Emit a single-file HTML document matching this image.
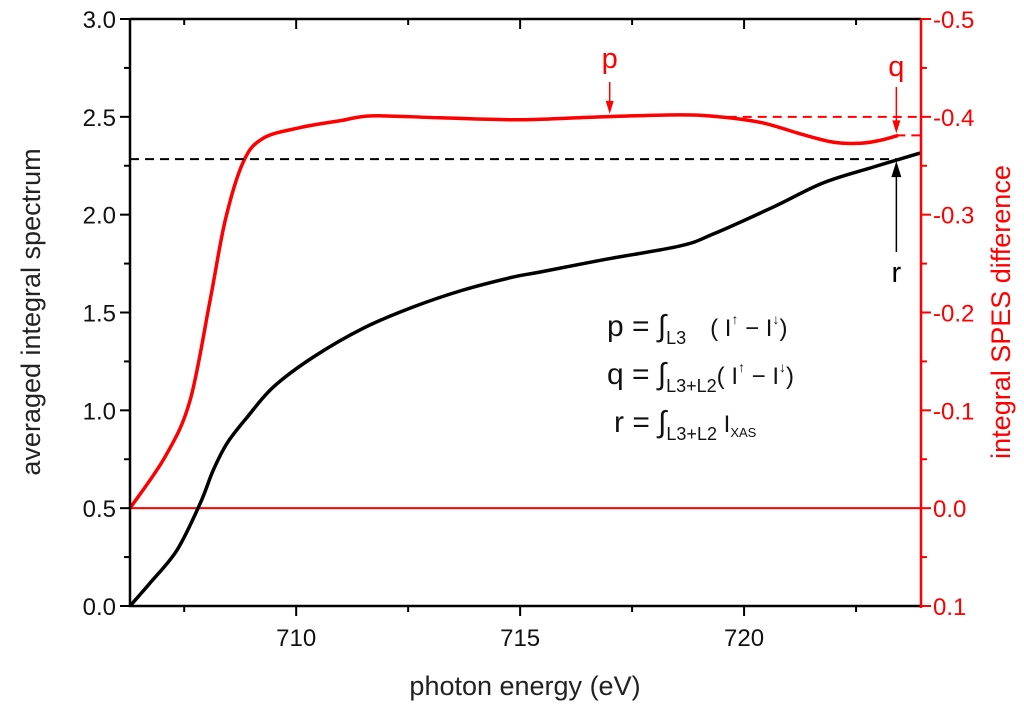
<!DOCTYPE html>
<html><head><meta charset="utf-8"><style>
html,body{margin:0;padding:0;background:#fff;}
svg{display:block;font-family:"Liberation Sans",Arial,sans-serif;}
</style></head><body>
<svg id="chart" width="1024" height="706" viewBox="0 0 1024 706" xmlns="http://www.w3.org/2000/svg">
<g id="grid"></g>
<g id="marks"></g>
<g id="axes"></g>
<g id="annot"></g>
<text x="525" y="695" font-size="27" text-anchor="middle" fill="#222">photon energy (eV)</text>
<text transform="translate(40,312) rotate(-90)" font-size="27" text-anchor="middle" fill="#222">averaged integral spectrum</text>
<text transform="translate(1010,312) rotate(-90)" font-size="27" text-anchor="middle" fill="red">integral SPES difference</text>
<g font-size="30" fill="#111">
<text x="607" y="336">p = ∫<tspan font-size="18" dy="8">L3</tspan><tspan dy="-8" font-size="24" dx="24">( I</tspan><tspan font-size="14" dy="-12">↑</tspan><tspan font-size="24" dy="12"> − I</tspan><tspan font-size="14" dy="-12">↓</tspan><tspan font-size="24" dy="12">)</tspan></text>
<text x="607" y="384">q = ∫<tspan font-size="18" dy="8">L3+L2</tspan><tspan dy="-8" font-size="24">( I</tspan><tspan font-size="14" dy="-12">↑</tspan><tspan font-size="24" dy="12"> − I</tspan><tspan font-size="14" dy="-12">↓</tspan><tspan font-size="24" dy="12">)</tspan></text>
<text x="614" y="432">r = ∫<tspan font-size="18" dy="8">L3+L2</tspan><tspan dy="-8" font-size="24"> I</tspan><tspan font-size="13" dy="5">XAS</tspan></text>
</g>
</svg>
<script>
const xTicks = [710, 715, 720];
const yLeftTicks = [0.0, 0.5, 1.0, 1.5, 2.0, 2.5, 3.0];
const yRightTicks = [-0.5, -0.4, -0.3, -0.2, -0.1, 0.0, 0.1];
const blackX = [706.29,706.74,707.34,707.86,708.15,708.46,708.91,709.49,710.38,711.5,712.61,713.73,714.84,715.45,716.94,718.57,719.31,720.65,721.76,722.88,723.93];
const blackY = [0,0.118,0.286,0.526,0.695,0.833,0.966,1.119,1.272,1.42,1.528,1.615,1.681,1.707,1.773,1.84,1.901,2.039,2.162,2.243,2.315];
const redX = [706.29,707.08,707.63,708.08,708.42,708.82,709.26,710.09,710.98,711.7,713.21,715.0,716.79,718.57,719.46,720.4,721.3,722.0,722.6,723.04,723.44];
const redY = [0,-0.053,-0.11,-0.213,-0.295,-0.354,-0.378,-0.389,-0.396,-0.401,-0.399,-0.397,-0.4,-0.402,-0.4,-0.394,-0.382,-0.374,-0.373,-0.376,-0.381];
const rLevel = 2.284, pLevel = -0.400, qLevel = -0.381;
const pX = 717.0, qX = 723.4, rX = 723.4;

const L=130,R=921,T=19,B=606;
const X0=706.29,X1=723.95;
const xs=v=>L+(v-X0)/(X1-X0)*(R-L);
const yl=v=>B-(v/3)*(B-T);
const yr=v=>T+(v+0.5)/0.6*(B-T);
const NS='http://www.w3.org/2000/svg';
function mk(parent,tag,attrs){const e=document.createElementNS(NS,tag);for(const k in attrs)e.setAttribute(k,attrs[k]);document.getElementById(parent).appendChild(e);return e;}
function smooth(xa,ya,fy){const p=xa.map((x,i)=>[xs(x),fy(ya[i])]);let d='M'+p[0][0]+','+p[0][1];for(let i=0;i<p.length-1;i++){const p0=p[i-1]||p[i],p1=p[i],p2=p[i+1],p3=p[i+2]||p2;const c1=[p1[0]+(p2[0]-p0[0])/6,p1[1]+(p2[1]-p0[1])/6],c2=[p2[0]-(p3[0]-p1[0])/6,p2[1]-(p3[1]-p1[1])/6];d+='C'+c1.join(',')+' '+c2.join(',')+' '+p2.join(',');}return d;}

let e=mk('marks','line',{x1:L,x2:R,y1:yr(0),y2:yr(0),stroke:'red','stroke-width':2});


e=mk('marks','path',{d:smooth(redX,redY,yr),fill:'none',stroke:'red','stroke-width':3.5});


e=mk('marks','path',{d:smooth(blackX,blackY,yl),fill:'none',stroke:'#000','stroke-width':3.5});


e=mk('annot','line',{x1:L,x2:xs(rX),y1:yl(rLevel),y2:yl(rLevel),stroke:'#000','stroke-width':2,'stroke-dasharray':'9,6'});


e=mk('annot','line',{x1:xs(719.3),x2:R,y1:yr(pLevel),y2:yr(pLevel),stroke:'red','stroke-width':2,'stroke-dasharray':'9,6'});


e=mk('annot','line',{x1:xs(qX),x2:R,y1:yr(qLevel),y2:yr(qLevel),stroke:'red','stroke-width':2,'stroke-dasharray':'9,6'});


function arrowDown(name,x,y1,y2,col){
 const g=mk('annot','g',{});
 
 
 const l=document.createElementNS(NS,'line');l.setAttribute('x1',x);l.setAttribute('x2',x);l.setAttribute('y1',y1);l.setAttribute('y2',y2-10);l.setAttribute('stroke',col);l.setAttribute('stroke-width',1.5);g.appendChild(l);
 const p=document.createElementNS(NS,'path');p.setAttribute('d',`M${x-4},${y2-13}L${x},${y2}L${x+4},${y2-13}Z`);p.setAttribute('fill',col);g.appendChild(p);}
arrowDown('p-arrow',xs(pX),82,yr(pLevel)-3,'red');
arrowDown('q-arrow',xs(qX),87,yr(qLevel)-2,'red');
(function(){const x=xs(rX),y=yl(rLevel)+2;
 const g=mk('annot','g',{});
 
 
 const l=document.createElementNS(NS,'line');l.setAttribute('x1',x);l.setAttribute('x2',x);l.setAttribute('y1',252);l.setAttribute('y2',y+12);l.setAttribute('stroke','#000');l.setAttribute('stroke-width',1.5);g.appendChild(l);
 const p=document.createElementNS(NS,'path');p.setAttribute('d',`M${x-5},${y+16}L${x},${y}L${x+5},${y+16}Z`);p.setAttribute('fill','#000');g.appendChild(p);})();
[['p',xs(pX),68,'red'],['q',xs(qX),76,'red'],['r',xs(rX),282,'#000']].forEach(a=>{const t=mk('annot','text',{x:a[1],y:a[2],'font-size':29,'text-anchor':'middle',fill:a[3]});t.textContent=a[0];

});
e=mk('axes','path',{d:`M${L},${T}H${R}M${L},${T}V${B}H${R}`,fill:'none',stroke:'#000','stroke-width':2.5});


e=mk('axes','line',{x1:R,x2:R,y1:T,y2:B+2,stroke:'red','stroke-width':2.5});


for(let v=707.5;v<=X1;v+=2.5){const x=xs(v);const maj=(v%5===0);const len=maj?10:6;
 mk('axes','line',{x1:x,x2:x,y1:B,y2:B+len,stroke:'#000','stroke-width':2});
 mk('axes','line',{x1:x,x2:x,y1:T,y2:T+len,stroke:'#000','stroke-width':2});}
xTicks.forEach(v=>{const t=mk('axes','text',{x:xs(v),y:B+40,'font-size':24,'text-anchor':'middle',fill:'#111'});t.textContent=v;

});
for(let v=0;v<=3.001;v+=0.25){const y=yl(v);const maj=Math.abs(v*2-Math.round(v*2))<1e-6;mk('axes','line',{x1:L-(maj?10:6),x2:L,y1:y,y2:y,stroke:'#000','stroke-width':2});}
yLeftTicks.forEach(v=>{const t=mk('axes','text',{x:L-14,y:yl(v)+9,'font-size':24,'text-anchor':'end',fill:'#111'});t.textContent=v.toFixed(1);

});
for(let i=0;i<=12;i++){const v=-0.5+i*0.05;const y=yr(v);mk('axes','line',{x1:R,x2:R+(i%2?6:10),y1:y,y2:y,stroke:'red','stroke-width':2});}
yRightTicks.forEach(v=>{const t=mk('axes','text',{x:R+12,y:yr(v)+9,'font-size':24,fill:'red'});t.textContent=v.toFixed(1);

});
</script>
</body></html>
